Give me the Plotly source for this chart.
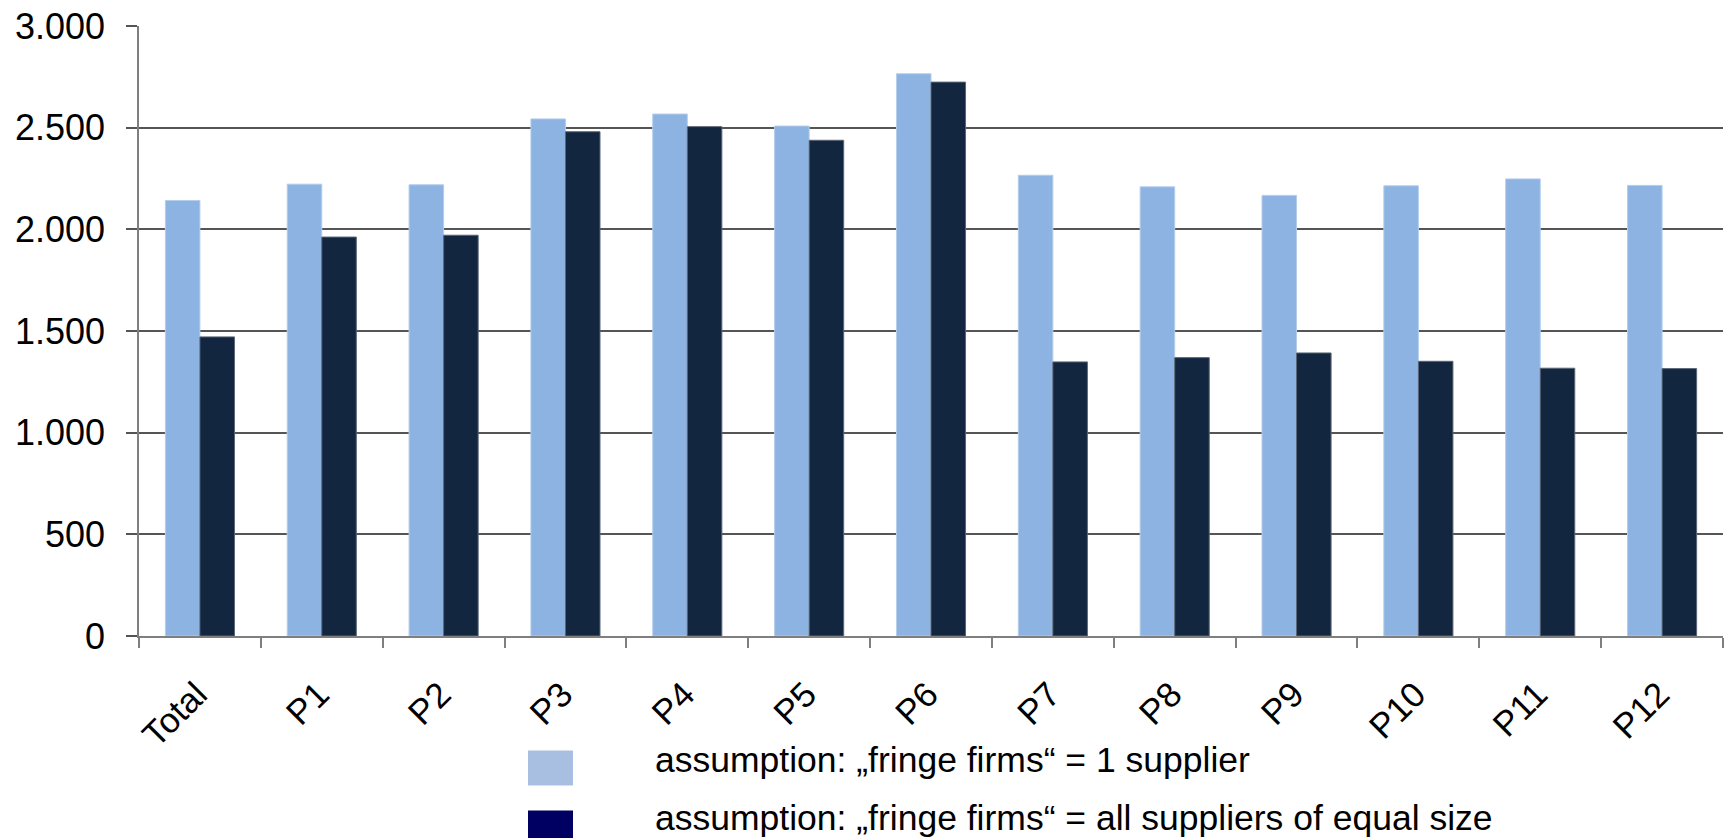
import plotly.graph_objects as go

# Categories and the two series (value per product market)
categories = ["Total", "P1", "P2", "P3", "P4", "P5", "P6",
              "P7", "P8", "P9", "P10", "P11", "P12"]
one_supplier = [2142, 2222, 2219, 2543, 2567, 2508, 2765,
                2266, 2209, 2167, 2214, 2248, 2216]
equal_size = [1471, 1962, 1971, 2480, 2505, 2438, 2724,
              1348, 1369, 1392, 1351, 1317, 1315]

legend_labels = [
    "assumption: \u201efringe firms\u201c = 1 supplier",
    "assumption: \u201efringe firms\u201c = all suppliers of equal size",
]
y_ticks = [0, 500, 1000, 1500, 2000, 2500, 3000]

W, H = 1729, 838
L, R, T, B = 139, 6, 24, 202
PW, PH = W - L - R, H - T - B

FONT = "Liberation Sans, Arial, sans-serif"


def px(x):
    return (x - L) / PW


def py(y):
    return (H - B - y) / PH


fig = go.Figure()
fig.add_trace(go.Bar(
    x=categories, y=one_supplier, name=legend_labels[0],
    marker=dict(color="#8DB3E2", line=dict(color="#B3CDEB", width=1)),
))
fig.add_trace(go.Bar(
    x=categories, y=equal_size, name=legend_labels[1],
    marker=dict(color="#132640", line=dict(color="#5A6675", width=1)),
))

# Hand-built legend below the axis: swatch box (top, bottom) and text centre
legend_colors = ["#A9BFE1", "#000062"]
legend_boxes = [(751, 786), (811, 846)]
legend_text_y = [760, 819]
for label, color, (y0, y1), yt in zip(legend_labels, legend_colors,
                                      legend_boxes, legend_text_y):
    fig.add_shape(type="rect", xref="paper", yref="paper",
                  x0=px(528), x1=px(573), y0=py(y0), y1=py(y1),
                  fillcolor=color, line=dict(width=0))
    fig.add_annotation(xref="paper", yref="paper", x=px(653), y=py(yt),
                       text=label, showarrow=False, xanchor="left",
                       yanchor="middle",
                       font=dict(family=FONT, size=35.5, color="#000000"))

fig.update_layout(
    width=W, height=H,
    margin=dict(l=L, r=R, t=T, b=B, pad=0),
    paper_bgcolor="white", plot_bgcolor="white",
    barmode="group", bargap=0.433, bargroupgap=0,
    showlegend=False,
    separators=",.",
    font=dict(family=FONT, color="#000000"),
)
fig.update_xaxes(
    type="category", tickangle=-45, tickson="boundaries",
    ticks="outside", ticklen=10, tickcolor="#7F7F7F", tickwidth=1.5,
    showline=True, linecolor="#7F7F7F", linewidth=1.5,
    tickfont=dict(family=FONT, size=35, color="#000000"),
    ticklabelstandoff=22, ticklabelshift=-3,
    showgrid=False,
)
fig.update_yaxes(
    range=[0, 3000], tickvals=y_ticks, tickformat=",d",
    ticks="outside", ticklen=11, tickcolor="#555555", tickwidth=1.5,
    showline=True, linecolor="#7F7F7F", linewidth=1.5,
    showgrid=True, gridcolor="#555555", gridwidth=1.5,
    zeroline=False, ticklabelstandoff=14,
    tickfont=dict(family=FONT, size=36, color="#000000"),
)

fig.write_html("out.html")
